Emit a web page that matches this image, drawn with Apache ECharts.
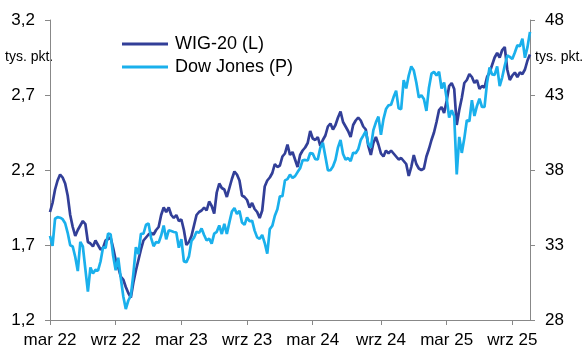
<!DOCTYPE html>
<html>
<head>
<meta charset="utf-8">
<script src="https://cdn.jsdelivr.net/npm/echarts@6/dist/echarts.min.js"></script>
<style>
html,body{margin:0;padding:0;background:#fff;}
#c{width:586px;height:349px;}
</style>
</head>
<body>
<div id="c"></div>
<script>
// Weekly observations (Fridays) from 2022-03-04 to 2025-10-24
const startDate = '2022-03-04';
const weekCount = 191;

// WIG-20, thousands of points (left axis)
const wig20 = [
1.92,1.98,2.07,2.13,2.17,2.15,2.11,2.03,1.90,1.82,1.76,1.80,1.83,1.86,1.84,1.72,1.71,1.69,1.73,1.70,
1.67,1.68,1.73,1.74,1.75,1.68,1.60,1.55,1.49,1.47,1.42,1.38,1.35,1.45,1.53,1.60,1.67,1.73,1.75,1.77,
1.78,1.77,1.80,1.82,
1.90,1.95,1.92,1.95,1.90,1.88,1.90,1.86,1.87,1.80,1.70,1.72,1.76,1.83,1.90,1.92,1.93,1.95,1.93,1.99,
1.96,1.91,2.05,2.11,2.08,2.07,2.02,2.08,2.14,2.19,2.17,2.13,2.03,2.02,2.00,1.95,1.98,1.94,1.92,1.88,
1.93,2.09,2.13,2.15,2.18,2.24,2.22,2.23,2.29,2.31,2.37,2.30,
2.32,2.27,2.22,2.30,2.33,2.35,2.38,2.46,2.41,2.40,2.42,2.36,2.40,2.43,2.49,2.51,2.47,2.50,2.55,2.59,
2.52,2.49,2.46,2.42,2.50,2.53,2.55,2.53,2.49,2.47,2.36,2.30,2.38,2.42,2.37,2.31,2.29,2.33,2.31,2.33,
2.31,2.29,2.27,2.28,2.26,2.24,2.16,2.22,2.30,2.24,2.21,2.20,
2.21,2.29,2.34,2.40,2.45,2.52,2.60,2.62,2.58,2.66,2.76,2.78,2.74,2.50,2.60,2.68,2.78,2.80,2.84,2.82,
2.78,2.80,2.74,2.76,2.75,2.82,2.85,2.90,2.95,2.98,2.95,3.00,3.02,2.87,2.80,2.83,2.85,2.82,2.85,2.84,
2.87,2.93,2.97
];

// Dow Jones, thousands of points (right axis)
const dowJones = [
33.61,32.94,34.75,34.86,34.82,34.72,34.45,33.81,32.98,32.90,32.20,31.26,33.21,32.90,31.39,29.89,31.50,31.10,31.34,31.29,
31.90,32.85,32.80,33.76,33.71,32.28,31.32,32.15,30.82,29.59,28.73,29.30,29.63,31.08,32.86,32.40,33.75,33.75,34.35,34.43,
33.48,32.92,33.20,33.15,
33.63,34.30,33.38,33.98,33.93,33.87,33.83,32.82,33.39,31.91,31.86,32.24,33.27,33.49,33.89,33.81,34.10,33.67,33.30,33.43,
33.09,33.76,33.88,34.30,33.73,34.41,33.73,34.51,35.23,35.46,35.07,35.28,34.50,34.35,34.84,34.58,34.62,33.96,33.51,33.41,
33.67,33.13,32.42,34.06,34.28,34.95,35.39,36.25,36.25,37.31,37.39,37.69,
37.47,37.59,37.86,38.11,38.65,38.67,38.63,39.13,39.09,38.72,38.71,39.48,39.81,38.90,37.98,37.99,38.24,38.68,39.51,40.00,
39.07,38.69,38.80,38.59,39.15,39.12,39.38,40.00,40.29,40.59,39.74,39.50,40.66,41.18,41.56,40.35,41.39,42.06,42.31,42.35,
42.86,43.28,42.11,42.05,43.99,43.44,44.30,44.91,44.64,43.83,42.84,42.99,
42.73,41.94,43.49,44.42,44.54,44.30,44.55,43.43,43.84,42.80,41.49,41.99,41.58,37.70,40.21,39.14,40.11,41.32,41.25,42.65,
41.60,42.27,42.76,42.20,42.21,43.82,44.83,44.37,44.34,44.90,43.59,44.18,44.95,45.63,45.54,45.40,45.83,46.32,46.25,46.76,
45.48,46.19,47.21
];

// Axis ticks
const leftTicks = [1.2, 1.7, 2.2, 2.7, 3.2];
const rightTicks = [28, 33, 38, 43, 48];
const xTickMonths = ['2022-03','2022-09','2023-03','2023-09','2024-03','2024-09','2025-03','2025-09'];
const xTickLabels = ['mar 22','wrz 22','mar 23','wrz 23','mar 24','wrz 24','mar 25','wrz 25'];

// Build weekly category dates
const dates = [];
{
  const d0 = new Date(startDate + 'T00:00:00Z');
  for (let i = 0; i < weekCount; i++) {
    const d = new Date(d0.getTime() + i * 7 * 86400000);
    dates.push(d.toISOString().slice(0, 10));
  }
}
// index of the first week in each tick month
const tickIndex = {};
xTickMonths.forEach((m, k) => {
  const idx = dates.findIndex(s => s.slice(0, 7) === m);
  if (idx >= 0) tickIndex[idx] = xTickLabels[k];
});

const FONT = '"Liberation Sans", Arial, sans-serif';
const AXIS_COLOR = '#888888';
const chart = echarts.init(document.getElementById('c'), null, {renderer: 'canvas'});

chart.setOption({
  animation: false,
  backgroundColor: '#ffffff',
  grid: {left: 50, right: 56, top: 20, bottom: 29, containLabel: false},
  legend: {
    orient: 'vertical',
    left: 117,
    top: 30,
    itemWidth: 46,
    itemHeight: 3,
    itemGap: 5,
    icon: 'rect',
    textStyle: {fontFamily: FONT, fontSize: 18, color: '#000', lineHeight: 17, padding: [0, 0, 0, 2]},
    data: ['WIG-20 (L)', 'Dow Jones (P)']
  },
  xAxis: {
    type: 'category',
    data: dates,
    boundaryGap: false,
    axisLine: {lineStyle: {color: AXIS_COLOR, width: 1}},
    axisTick: {
      show: true,
      length: 5,
      lineStyle: {color: AXIS_COLOR},
      interval: (idx) => tickIndex[idx] !== undefined
    },
    axisLabel: {
      interval: (idx) => tickIndex[idx] !== undefined,
      formatter: (v, idx) => tickIndex[idx] || '',
      fontFamily: FONT,
      fontSize: 17,
      color: '#000',
      margin: 12
    },
    splitLine: {show: false}
  },
  yAxis: [
    {
      type: 'value',
      position: 'left',
      min: 1.2,
      max: 3.2,
      axisLine: {show: true, lineStyle: {color: AXIS_COLOR}},
      axisTick: {show: true, length: 5, lineStyle: {color: AXIS_COLOR}, customValues: leftTicks},
      axisLabel: {
        customValues: leftTicks,
        formatter: v => v.toFixed(1).replace('.', ','),
        fontFamily: FONT, fontSize: 17, color: '#000', margin: 15
      },
      splitLine: {show: false}
    },
    {
      type: 'value',
      position: 'right',
      min: 28,
      max: 48,
      axisLine: {show: true, lineStyle: {color: AXIS_COLOR}},
      axisTick: {show: true, length: 5, lineStyle: {color: AXIS_COLOR}, customValues: rightTicks},
      axisLabel: {
        customValues: rightTicks,
        formatter: v => String(v),
        fontFamily: FONT, fontSize: 17, color: '#000', margin: 15
      },
      splitLine: {show: false}
    }
  ],
  graphic: [
    {type: 'text', left: 5, top: 50, style: {text: 'tys. pkt.', font: '14px ' + FONT, fill: '#000'}},
    {type: 'text', left: 535, top: 50, style: {text: 'tys. pkt.', font: '14px ' + FONT, fill: '#000'}}
  ],
  series: [
    {
      name: 'WIG-20 (L)',
      type: 'line',
      yAxisIndex: 0,
      data: wig20,
      showSymbol: false,
      symbol: 'none',
      lineStyle: {color: '#323F98', width: 2.7},
      itemStyle: {color: '#323F98'}
    },
    {
      name: 'Dow Jones (P)',
      type: 'line',
      yAxisIndex: 1,
      data: dowJones,
      showSymbol: false,
      symbol: 'none',
      lineStyle: {color: '#1AB0EC', width: 2.7},
      itemStyle: {color: '#1AB0EC'}
    }
  ]
});
</script>
</body>
</html>
